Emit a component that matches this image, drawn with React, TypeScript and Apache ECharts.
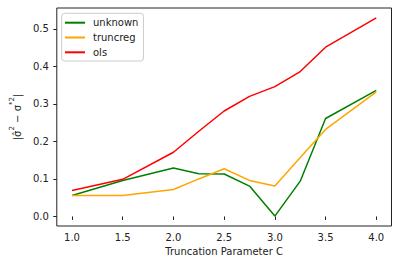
import React, { useEffect, useRef } from "react";
import * as echarts from "echarts";

const xValues = [1.0, 1.5, 2.0, 2.25, 2.5, 2.75, 3.0, 3.25, 3.5, 4.0];
const unknownVals = [0.056, 0.096, 0.129, 0.114, 0.113, 0.081, 0.001, 0.094, 0.261, 0.336];
const truncregVals = [0.056, 0.056, 0.072, 0.1, 0.127, 0.096, 0.081, 0.157, 0.232, 0.332];
const olsVals = [0.069, 0.099, 0.171, 0.227, 0.281, 0.32, 0.346, 0.386, 0.451, 0.529];
const xTicks = [1.0, 1.5, 2.0, 2.5, 3.0, 3.5, 4.0];
const yTicks = [0.0, 0.1, 0.2, 0.3, 0.4, 0.5];

const FONT = "DejaVu Sans";

export default function App() {
  const ref = useRef<HTMLDivElement>(null);
  useEffect(() => {
    if (!ref.current) return;
    const chart = echarts.init(ref.current, null, { renderer: "svg" });
    const mk = (name: string, vals: number[], color: string) => ({
      name,
      type: "line",
      data: xValues.map((x, i) => [x, vals[i]]),
      symbol: "none",
      lineStyle: { color, width: 1.5 },
      itemStyle: { color },
    });
    chart.setOption({
      animation: false,
      grid: {
        left: 56.5,
        top: 8,
        right: 21.5,
        bottom: 43,
        show: true,
        borderColor: "#222",
        borderWidth: 1,
      },
      legend: {
        orient: "vertical",
        left: 61.7,
        top: 13.3,
        padding: [3.4, 5, 2.7, 3.3],
        itemGap: 2.8,
        itemWidth: 20,
        itemHeight: 2,
        icon: "rect",
        backgroundColor: "rgba(255,255,255,0.8)",
        borderColor: "#cccccc",
        borderWidth: 1,
        borderRadius: 3,
        textStyle: {
          fontFamily: FONT,
          fontSize: 10,
          lineHeight: 12,
          color: "#222",
          padding: [0, 0, 0, 3],
        },
        data: ["unknown", "truncreg", "ols"],
      },
      xAxis: {
        type: "value",
        min: 0.85,
        max: 4.15,
        name: "Truncation Parameter C",
        nameLocation: "middle",
        nameGap: 20,
        nameTextStyle: { fontFamily: FONT, fontSize: 10, color: "#222" },
        axisLine: { show: false },
        splitLine: { show: false },
        axisTick: {
          show: true,
          length: 3.5,
          customValues: xTicks,
          lineStyle: { color: "#222", width: 1 },
        },
        axisLabel: {
          customValues: xTicks,
          margin: 6,
          fontFamily: FONT,
          fontSize: 10,
          color: "#222",
          formatter: (v: number) => v.toFixed(1),
        },
      },
      yAxis: {
        type: "value",
        min: -0.0254,
        max: 0.5554,
        name: "{n||σ̂}{s|2}{n| − σ}{s|*2}{n||}",
        nameLocation: "middle",
        nameGap: 27,
        nameRotate: 90,
        nameTextStyle: {
          fontFamily: FONT,
          fontSize: 10,
          color: "#222",
          rich: {
            n: { fontFamily: FONT, fontSize: 10, color: "#222", lineHeight: 14, verticalAlign: "bottom" },
            s: { fontFamily: FONT, fontSize: 7, color: "#222", lineHeight: 9, verticalAlign: "top" },
          },
        },
        axisLine: { show: false },
        splitLine: { show: false },
        axisTick: {
          show: true,
          length: 3.5,
          customValues: yTicks,
          lineStyle: { color: "#222", width: 1 },
        },
        axisLabel: {
          customValues: yTicks,
          margin: 8,
          fontFamily: FONT,
          fontSize: 10,
          color: "#222",
          formatter: (v: number) => v.toFixed(1),
        },
      },
      series: [
        mk("unknown", unknownVals, "green"),
        mk("truncreg", truncregVals, "orange"),
        mk("ols", olsVals, "red"),
      ],
    });
    return () => chart.dispose();
  }, []);
  return (
    <div
      ref={ref}
      style={{ position: "fixed", left: 0, top: 0, width: 413, height: 269, background: "#fff" }}
    />
  );
}
